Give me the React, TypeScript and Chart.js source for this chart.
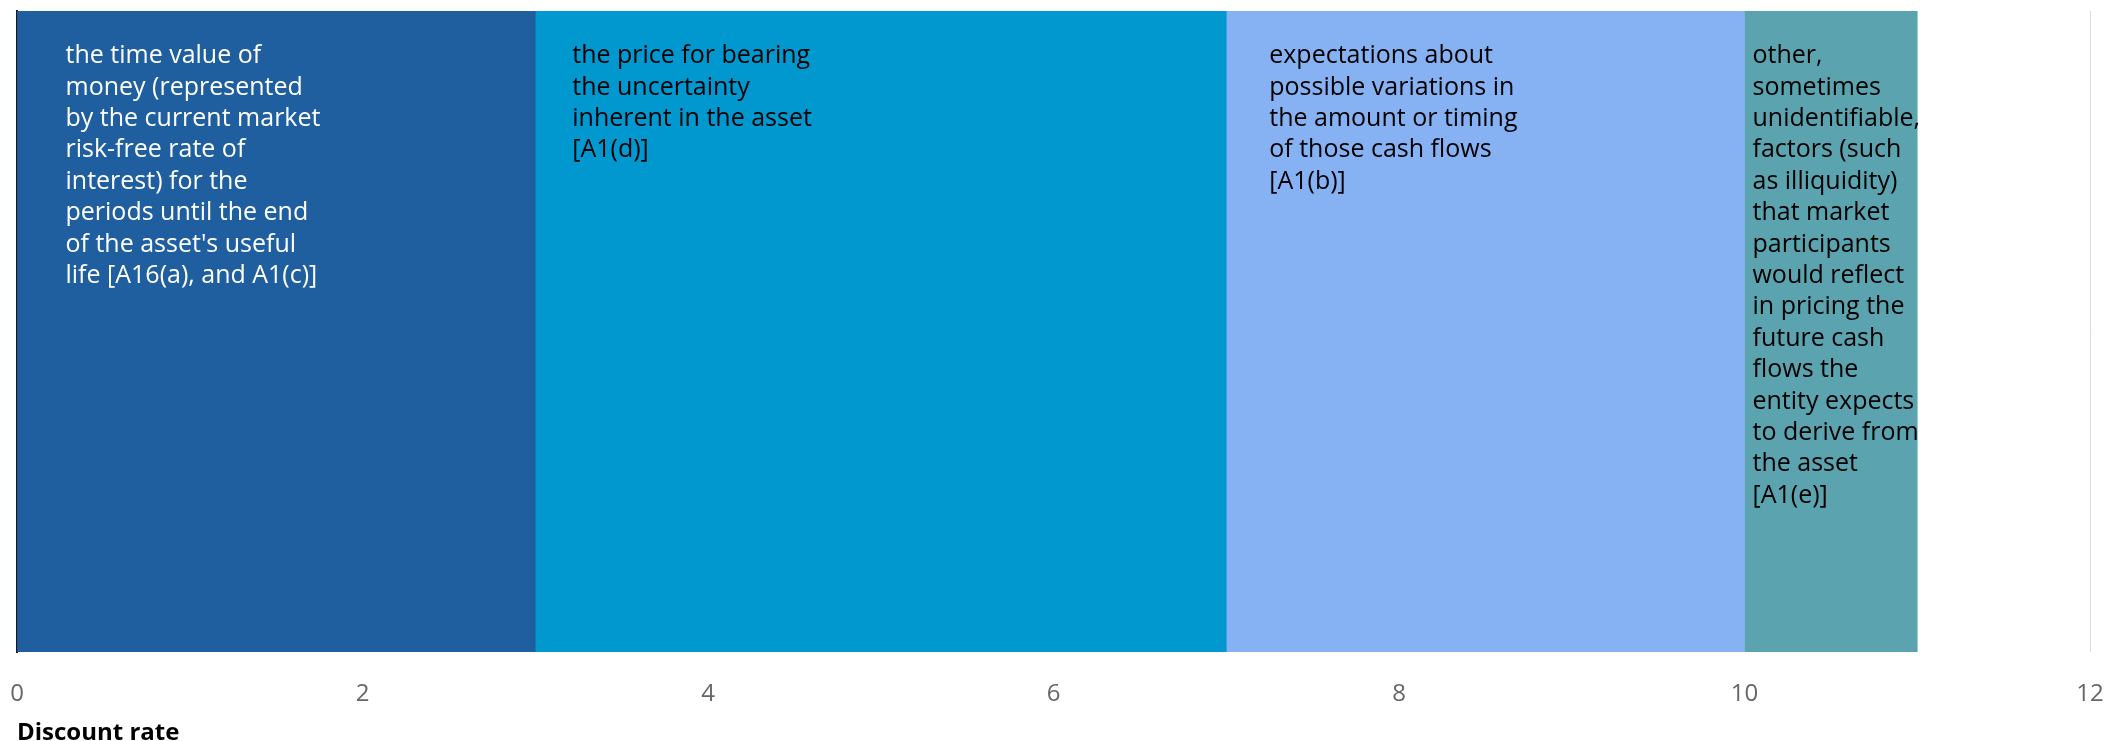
import React, { useEffect, useRef } from "react";
import { Chart, registerables } from "chart.js";

Chart.register(...registerables);

// ---- data ----
const categories = [""];
const seriesNames = ["Time value of money", "Price for uncertainty", "Cash flow variations", "Other factors"];
const seriesValues = [3, 4, 3, 1];
const seriesColors = ["#1f5f9f", "#0098ce", "#86b2f3", "#5ba3af"];
const labelColors = ["#ffffff", "#000000", "#000000", "#000000"];
const tickValues = [0, 2, 4, 6, 8, 10, 12];
const axisTitle = "Discount rate";

const segmentLabels: string[][] = [
  [
    "the time value of",
    "money (represented",
    "by the current market",
    "risk-free rate of",
    "interest) for the",
    "periods until the end",
    "of the asset's useful",
    "life [A16(a), and A1(c)]",
  ],
  ["the price for bearing", "the uncertainty", "inherent in the asset", "[A1(d)]"],
  [
    "expectations about",
    "possible variations in",
    "the amount or timing",
    "of those cash flows",
    "[A1(b)]",
  ],
  [
    "other,",
    "sometimes",
    "unidentifiable,",
    "factors (such",
    "as illiquidity)",
    "that market",
    "participants",
    "would reflect",
    "in pricing the",
    "future cash",
    "flows the",
    "entity expects",
    "to derive from",
    "the asset",
    "[A1(e)]",
  ],
];

const FONT = '"Open Sans", "Noto Sans", sans-serif';

const segmentTextPlugin = {
  id: "segmentText",
  afterDatasetsDraw(chart: any) {
    const ctx = chart.ctx;
    const area = chart.chartArea;
    const offsetsX = [48, 37, 43, 8];
    const firstLine = 45;
    const lineH = 31.4;
    ctx.save();
    ctx.font = `25px ${FONT}`;
    ctx.textAlign = "left";
    ctx.textBaseline = "middle";
    segmentLabels.forEach((lines, i) => {
      const meta = chart.getDatasetMeta(i);
      const bar: any = meta.data[0];
      if (!bar) return;
      const left = Math.min(bar.base, bar.x);
      ctx.fillStyle = labelColors[i];
      lines.forEach((ln, j) => {
        ctx.fillText(ln, left + offsetsX[i], area.top + firstLine + j * lineH);
      });
    });
    ctx.restore();
  },
};

export default function App() {
  const ref = useRef<HTMLCanvasElement | null>(null);
  useEffect(() => {
    if (!ref.current) return;
    const chart = new Chart(ref.current, {
      type: "bar",
      data: {
        labels: categories,
        datasets: seriesNames.map((name, i) => ({
          label: name,
          data: [seriesValues[i]],
          backgroundColor: seriesColors[i],
          borderWidth: 0,
          categoryPercentage: 1,
          barPercentage: 1,
        })),
      },
      options: {
        indexAxis: "y",
        animation: false,
        responsive: false,
        maintainAspectRatio: false,
        layout: { padding: { top: 11, left: 17, right: 15, bottom: 0 } },
        plugins: {
          legend: { display: false },
          tooltip: { enabled: false },
          title: { display: false },
        },
        scales: {
          x: {
            type: "linear",
            stacked: true,
            min: 0,
            max: 12,
            afterBuildTicks: (scale: any) => {
              scale.ticks = tickValues.map((v) => ({ value: v }));
            },
            afterFit: (scale: any) => {
              scale.height = 89;
            },
            grid: {
              color: "#dcdcdc",
              drawTicks: true,
              tickLength: 30,
              tickColor: "rgba(0,0,0,0)",
              lineWidth: 1,
            },
            border: { display: false },
            ticks: {
              padding: 0,
              color: "#666666",
              font: { family: FONT, size: 24, lineHeight: 1 },
            },
            title: {
              display: true,
              text: axisTitle,
              align: "start",
              color: "#000000",
              font: { family: FONT, size: 24, weight: "bold", lineHeight: 1 },
              padding: { top: 11, bottom: -4 },
            },
          },
          y: {
            stacked: true,
            afterFit: (scale: any) => {
              scale.width = 0;
            },
            grid: { display: false, drawTicks: false },
            ticks: { display: false },
            border: { display: true, color: "#1a1a1a", width: 2 },
          },
        },
      },
      plugins: [segmentTextPlugin],
    } as any);
    return () => chart.destroy();
  }, []);
  return (
    <div style={{ position: "fixed", left: 0, top: 0, width: 2105, height: 741, background: "#fff" }}>
      <canvas ref={ref} width={2105} height={741} style={{ width: 2105, height: 741, display: "block" }} />
    </div>
  );
}
